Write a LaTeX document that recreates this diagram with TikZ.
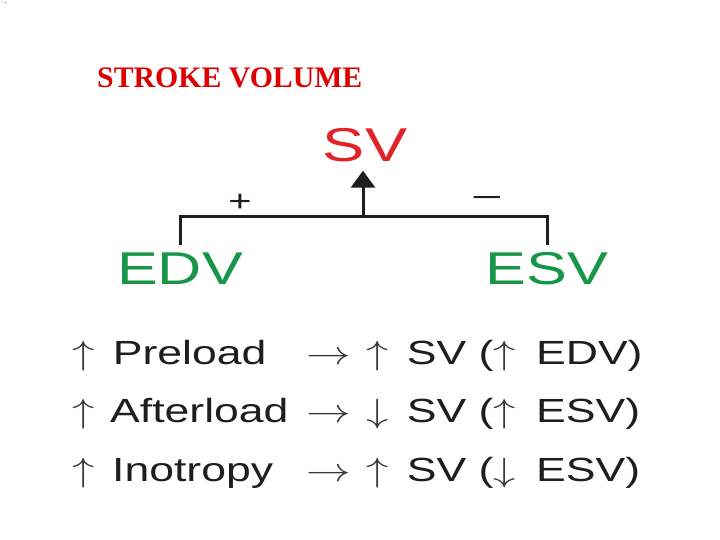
\documentclass[tikz,border=0pt]{standalone}
\usepackage{fontspec}
\setmainfont{Liberation Sans}
\newfontfamily\titlefont{Liberation Serif}
\usetikzlibrary{arrows.meta}
\definecolor{titlered}{RGB}{222,0,0}
\definecolor{svred}{RGB}{225,35,40}
\definecolor{vgreen}{RGB}{22,150,70}
\definecolor{ink}{RGB}{30,30,30}
\definecolor{arrowink}{RGB}{55,55,55}
\newcommand{\wide}[1]{\scalebox{1.33}[1]{#1}}
\newcommand{\marr}[1]{{\fontsize{10}{12}\selectfont\color{arrowink}\scalebox{3.35}{$#1$}}}
\begin{document}
\begin{tikzpicture}[x=1pt,y=-1pt,
  lbl/.style={inner sep=0pt},
  bigred/.style={inner xsep=0pt, inner ysep=8pt, text=svred, font=\fontsize{47.5}{50}\selectfont},
  biggreen/.style={inner xsep=0pt, inner ysep=7pt, text=vgreen, font=\fontsize{46}{50}\selectfont},
  conn/.style={draw=ink, line width=3pt},
  sign/.style={inner sep=0pt, text=ink, font=\fontsize{30}{30}\selectfont},
  rowtext/.style={inner sep=0pt, anchor=base west, text=ink, font=\fontsize{33.5}{40}\selectfont}]
\useasboundingbox (0,0) rectangle (720,540);

\node[inner sep=0pt, anchor=west, text=gray, font=\fontsize{5}{5}\selectfont] (mark) at (0.5,4) {$\rightarrow$};

\node[lbl, anchor=base west, text=titlered, font=\titlefont\bfseries\fontsize{29.8}{32}\selectfont] (title) at (97,88) {STROKE VOLUME};

\node[bigred, anchor=base] (sv) at (365,162) {\wide{SV}};
\node[biggreen, anchor=base] (edv) at (180,284) {\wide{EDV}};
\node[biggreen, anchor=base] (esv) at (547,284) {\wide{ESV}};

\coordinate (j) at (363,217);
\draw[conn] (edv.north) -- (edv.north |- j) -- (esv.north |- j) -- (esv.north);
\draw[conn, -{Triangle[width=24pt,length=17pt]}] (j) -- (j |- sv.south);

\node[sign] (plus) at (240,203) {\wide{+}};
\node[sign] (minus) at (487,202) {\scalebox{1.8}[1]{−}};

\node[rowtext] (r1a) at (72,364) {\wide{\marr{\uparrow}\hspace{4.5pt} Preload}};
\node[rowtext] (r1b) at (306,364) {\wide{\marr{\rightarrow}\hspace{2.3pt} \marr{\uparrow}\hspace{4.5pt} SV (\marr{\uparrow}\hspace{6pt} EDV)}};
\node[rowtext] (r2a) at (72,422) {\wide{\marr{\uparrow}\hspace{2.5pt} Afterload}};
\node[rowtext] (r2b) at (306,422) {\wide{\marr{\rightarrow}\hspace{2.3pt} \marr{\downarrow}\hspace{4.5pt} SV (\marr{\uparrow}\hspace{6pt} ESV)}};
\node[rowtext] (r3a) at (72,481) {\wide{\marr{\uparrow}\hspace{4pt} Inotropy}};
\node[rowtext] (r3b) at (306,481) {\wide{\marr{\rightarrow}\hspace{2.3pt} \marr{\uparrow}\hspace{4.5pt} SV (\marr{\downarrow}\hspace{6pt} ESV)}};
\end{tikzpicture}
\end{document}
